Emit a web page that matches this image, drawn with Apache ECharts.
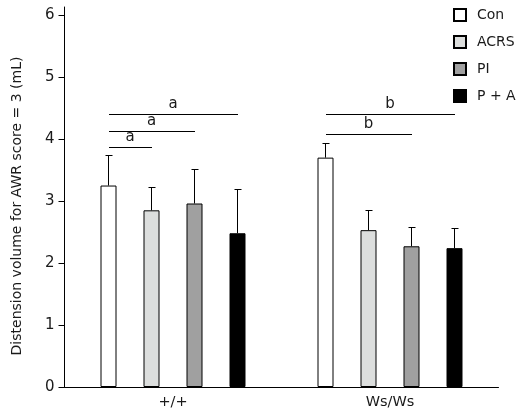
<!DOCTYPE html>
<html>
<head>
<meta charset="utf-8">
<script src="https://cdn.jsdelivr.net/npm/echarts@6/dist/echarts.min.js"></script>
<style>html,body{margin:0;padding:0;background:#fff}#c{width:524px;height:420px}</style>
</head>
<body>
<div id="c"></div>
<script>
const categories = ['+/+', 'Ws/Ws'];
const seriesNames = ['Con', 'ACRS', 'PI', 'P + A'];
const conMean = [3.25, 3.70];
const acrsMean = [2.85, 2.53];
const piMean = [2.96, 2.27];
const paMean = [2.48, 2.24];
const conErr = [0.49, 0.23];
const acrsErr = [0.37, 0.31];
const piErr = [0.55, 0.31];
const paErr = [0.70, 0.31];
const yTicks = [0, 1, 2, 3, 4, 5, 6];
// significance brackets
const bracketGroup = [0, 0, 0, 1, 1];
const bracketFrom = [0, 0, 0, 0, 0];
const bracketTo = [1, 2, 3, 2, 3];
const bracketY = [3.87, 4.12, 4.40, 4.08, 4.39];
const bracketLabel = ['a', 'a', 'a', 'b', 'b'];

const means = [conMean, acrsMean, piMean, paMean];
const errs = [conErr, acrsErr, piErr, paErr];
const colors = ['#ffffff', '#dcdedd', '#a0a0a0', '#000000'];
const BAR_W = 16, GAP_RATIO = 1.6875;
const STEP = BAR_W * (1 + GAP_RATIO);
const FONT = 'DejaVu Sans';
const TXT = '#1a1a1a';
const snap = v => Math.round(v - 0.5) + 0.5;

const series = [];
seriesNames.forEach((name, k) => {
  series.push({
    name: name, type: 'bar', barWidth: BAR_W, barGap: (GAP_RATIO * 100) + '%',
    itemStyle: { color: colors[k], borderColor: '#000', borderWidth: 1 },
    data: means[k], z: 2
  });
});
seriesNames.forEach((name, k) => {
  series.push({
    type: 'custom', silent: true, z: 3,
    encode: { x: 0, y: [1, 2] },
    data: categories.map((c, i) => [i, means[k][i], means[k][i] + errs[k][i]]),
    renderItem: function (params, api) {
      const b = api.coord([api.value(0), api.value(1)]);
      const t = api.coord([api.value(0), api.value(2)]);
      const x = snap(b[0] + (k - 1.5) * STEP);
      const ty = snap(t[1]);
      const st = { stroke: '#000', lineWidth: 1 };
      return { type: 'group', children: [
        { type: 'line', shape: { x1: x, y1: b[1], x2: x, y2: ty }, style: st },
        { type: 'line', shape: { x1: x - 3, y1: ty, x2: x + 4, y2: ty }, style: st }
      ]};
    }
  });
});
series.push({
  type: 'custom', silent: true, z: 3,
  encode: { x: 0, y: 1 },
  data: bracketY.map((y, i) => [bracketGroup[i], y, bracketFrom[i], bracketTo[i]]),
  renderItem: function (params, api) {
    const c = api.coord([api.value(0), api.value(1)]);
    const x1 = c[0] + (api.value(2) - 1.5) * STEP;
    const x2 = c[0] + (api.value(3) - 1.5) * STEP;
    const y = snap(c[1]);
    return { type: 'group', children: [
      { type: 'line', shape: { x1: Math.round(x1), y1: y, x2: Math.round(x2), y2: y }, style: { stroke: '#000', lineWidth: 1 } },
      { type: 'text', x: (x1 + x2) / 2, y: y - 3,
        style: { text: bracketLabel[params.dataIndex], fill: TXT, font: '15px ' + FONT, align: 'center', verticalAlign: 'bottom' } }
    ]};
  }
});

const chart = echarts.init(document.getElementById('c'), null, { renderer: 'canvas' });
chart.setOption({
  animation: false,
  backgroundColor: '#fff',
  textStyle: { fontFamily: FONT },
  grid: { left: 64.5, right: 25.5, top: 7, bottom: 33, containLabel: false },
  legend: {
    data: seriesNames, orient: 'vertical', left: 453, top: 8, padding: 0,
    itemWidth: 12, itemHeight: 12, itemGap: 13, icon: 'rect',
    textStyle: { fontSize: 14, color: TXT, fontFamily: FONT, padding: [0, 0, 0, 6] }
  },
  xAxis: {
    type: 'category', data: categories,
    axisLine: { lineStyle: { color: '#000', width: 1 } },
    axisTick: { show: false },
    axisLabel: { fontSize: 14.5, color: TXT, margin: 8, fontFamily: FONT },
    splitLine: { show: false }
  },
  yAxis: {
    type: 'value', min: 0, max: 6.13,
    name: 'Distension volume for AWR score = 3 (mL)',
    nameLocation: 'middle', nameGap: 40,
    nameTextStyle: { fontSize: 14, color: TXT, fontFamily: FONT, padding: [0, 18, 0, 0] },
    axisLine: { show: true, lineStyle: { color: '#000', width: 1 } },
    axisTick: { show: true, length: 6, lineStyle: { color: '#000' }, customValues: yTicks },
    axisLabel: { fontSize: 15, color: TXT, margin: 10, fontFamily: FONT, customValues: yTicks },
    splitLine: { show: false }
  },
  series: series
});
</script>
</body>
</html>
